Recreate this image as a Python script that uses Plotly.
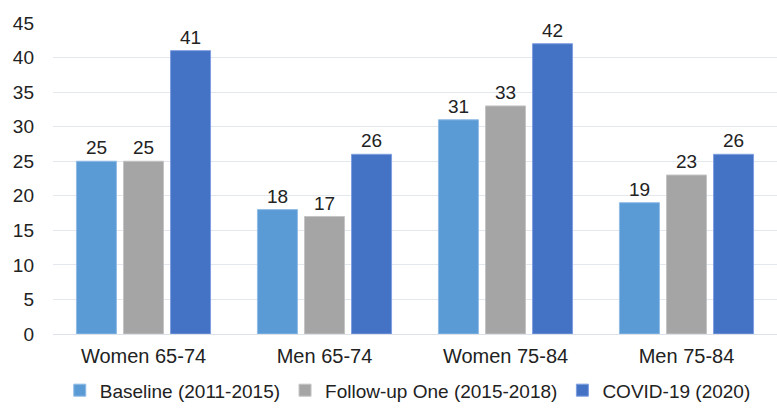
import plotly.graph_objects as go

categories = ["Women 65-74", "Men 65-74", "Women 75-84", "Men 75-84"]
baseline = [25, 18, 31, 19]
followup = [25, 17, 33, 23]
covid = [41, 26, 42, 26]
series_names = ["Baseline (2011-2015)", "Follow-up One (2015-2018)", "COVID-19 (2020)"]
colors = ["#5b9bd5", "#a5a5a5", "#4472c4"]
line_colors = ["#8fbbe6", "#c4c4c4", "#7f9ee0"]

FONT = "Liberation Sans, Arial, sans-serif"

fig = go.Figure()
for name, vals, c, lc in zip(series_names, [baseline, followup, covid], colors, line_colors):
    fig.add_trace(go.Bar(
        x=categories, y=vals, name=name,
        marker=dict(color=c, line=dict(color=lc, width=1)),
        text=[str(v) for v in vals], textposition="outside",
        textfont=dict(family=FONT, size=19, color="#222222"),
        cliponaxis=False,
    ))

fig.update_layout(
    width=777, height=409,
    margin=dict(l=53, r=0, t=23, b=75, autoexpand=False),
    paper_bgcolor="white", plot_bgcolor="white",
    barmode="group", bargap=0.22, bargroupgap=0.15,
    font=dict(family=FONT, size=18, color="#222222"),
    yaxis=dict(range=[0, 45], dtick=5, showgrid=True, gridcolor="#e3e7ee", gridwidth=1,
               zeroline=True, zerolinecolor="#dde2ea", zerolinewidth=1,
               tickfont=dict(size=19, color="#222222"), ticklen=0, ticks="", ticklabelstandoff=18),
    xaxis=dict(showgrid=False, showline=False, tickfont=dict(size=20, color="#222222"),
               ticklabelstandoff=8),
    legend=dict(orientation="h", x=0.49, xanchor="center", y=-0.12, yanchor="top",
                font=dict(size=19, color="#222222"), itemwidth=30, traceorder="normal",
                tracegroupgap=0),
    showlegend=True,
)

fig.write_html("out.html")
